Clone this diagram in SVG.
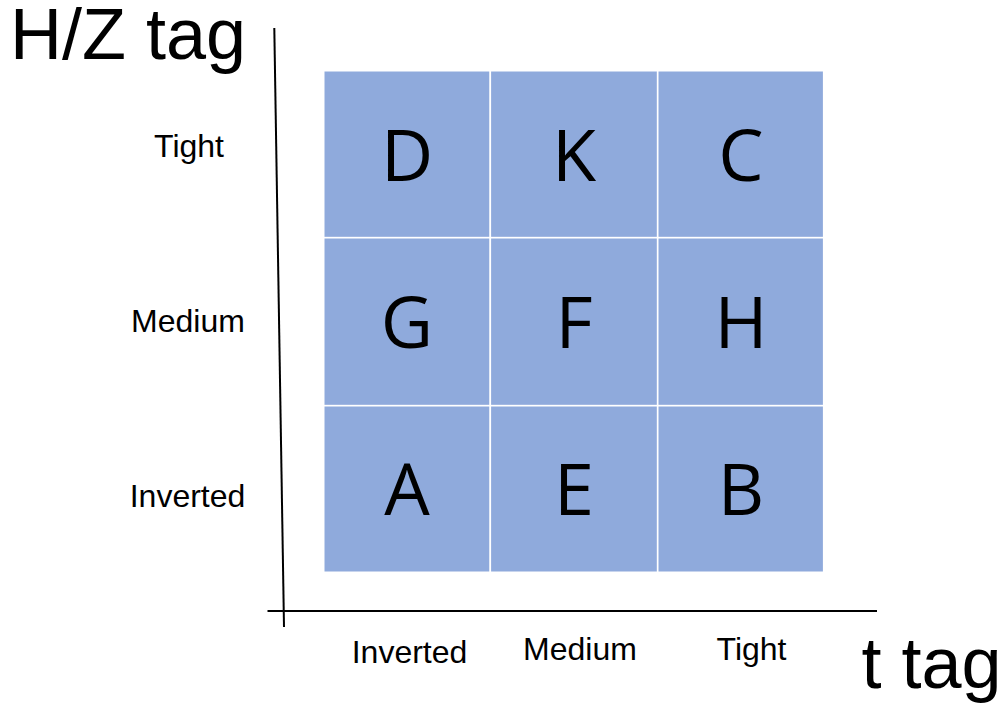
<svg xmlns="http://www.w3.org/2000/svg" width="1006" height="708" viewBox="0 0 1006 708">
<style>
.cell{fill:#8FAADC;stroke:#FFFFFF;stroke-width:1.6}
.lbl{font-family:"Open Sans","Liberation Sans",sans-serif;font-size:72px;fill:#000;text-anchor:middle}
.tick{font-family:"Liberation Sans",Arial,sans-serif;font-size:32px;fill:#000;text-anchor:middle}
.title{font-family:"Liberation Sans",Arial,sans-serif;font-size:72px;fill:#000}
.axis{stroke:#000;stroke-width:2;fill:none}
</style>
<rect width="1006" height="708" fill="#FFFFFF"/>
<g id="connectors">
<line class="axis" x1="274.3" y1="28" x2="284" y2="627"/>
<line class="axis" x1="267.5" y1="611" x2="877" y2="611"/>
</g>
<g id="node-D"><rect class="cell" x="323.7" y="70.7" width="166.6" height="167"/><text class="lbl" x="407" y="181">D</text></g>
<g id="node-K"><rect class="cell" x="490.3" y="70.7" width="167.4" height="167"/><text class="lbl" x="574" y="181">K</text></g>
<g id="node-C"><rect class="cell" x="657.7" y="70.7" width="166" height="167"/><text class="lbl" x="741" y="181">C</text></g>
<g id="node-G"><rect class="cell" x="323.7" y="237.7" width="166.6" height="168"/><text class="lbl" x="407" y="348">G</text></g>
<g id="node-F"><rect class="cell" x="490.3" y="237.7" width="167.4" height="168"/><text class="lbl" x="574" y="348">F</text></g>
<g id="node-H"><rect class="cell" x="657.7" y="237.7" width="166" height="168"/><text class="lbl" x="741" y="348">H</text></g>
<g id="node-A"><rect class="cell" x="323.7" y="405.7" width="166.6" height="166.6"/><text class="lbl" x="407" y="515">A</text></g>
<g id="node-E"><rect class="cell" x="490.3" y="405.7" width="167.4" height="166.6"/><text class="lbl" x="574" y="515">E</text></g>
<g id="node-B"><rect class="cell" x="657.7" y="405.7" width="166" height="166.6"/><text class="lbl" x="741" y="515">B</text></g>
<g id="axis-labels">
<text class="title" x="10" y="59">H/Z tag</text>
<text class="title" x="861.5" y="688">t tag</text>
<text class="tick" x="189" y="157">Tight</text>
<text class="tick" x="188" y="332">Medium</text>
<text class="tick" x="187.5" y="507">Inverted</text>
<text class="tick" x="409.5" y="663">Inverted</text>
<text class="tick" x="580" y="660">Medium</text>
<text class="tick" x="751.5" y="659.5">Tight</text>
</g>
</svg>
